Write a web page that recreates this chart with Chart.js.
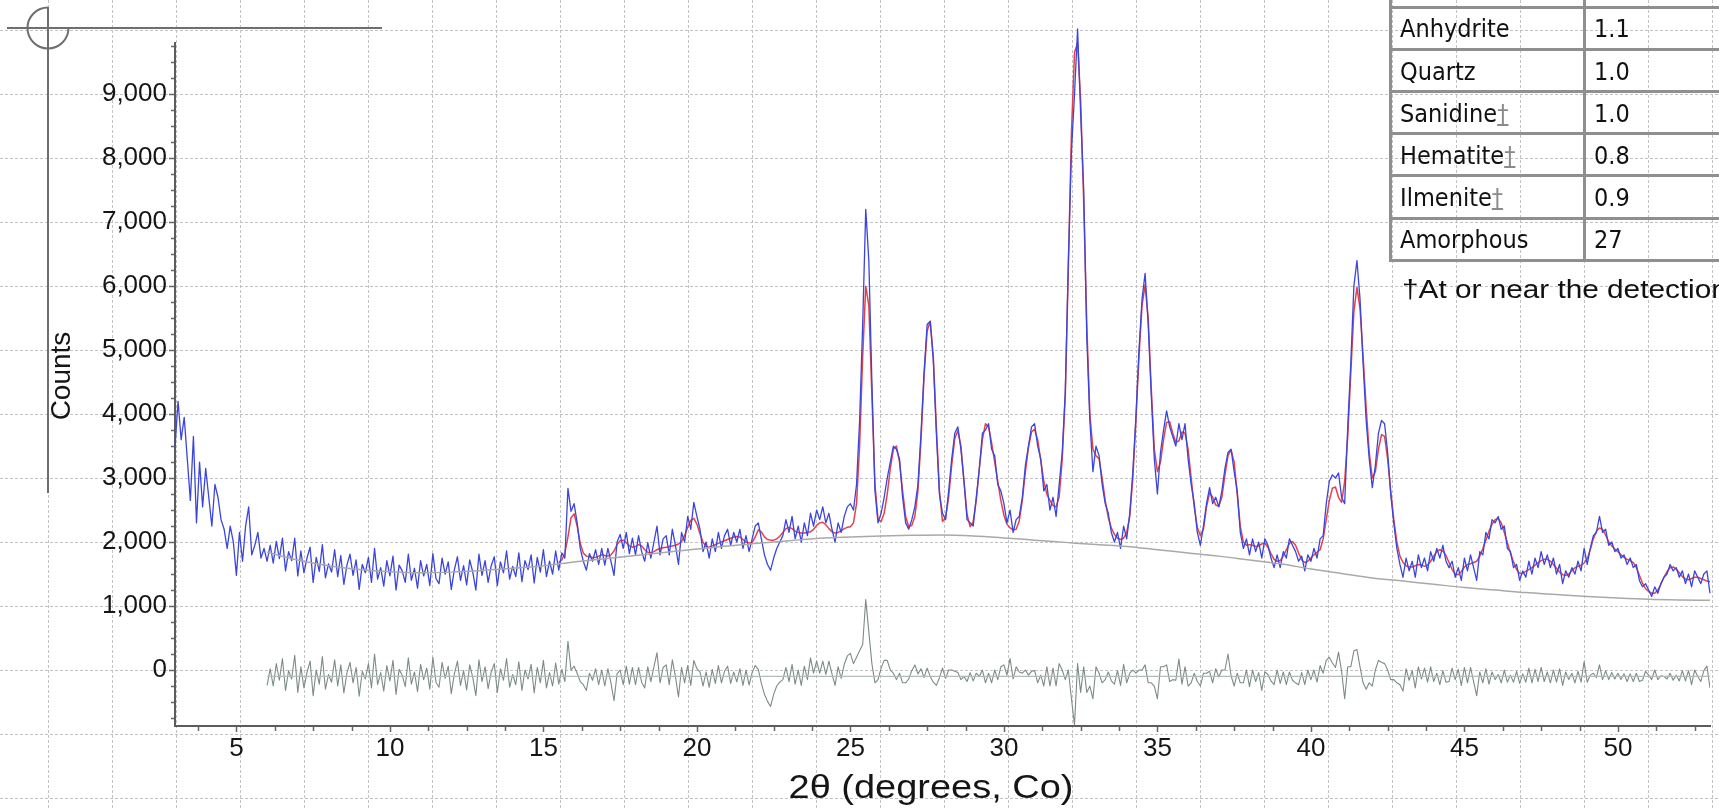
<!DOCTYPE html>
<html>
<head>
<meta charset="utf-8">
<script src="https://cdn.jsdelivr.net/npm/chart.js@4.4.1/dist/chart.umd.min.js"></script>
<style>
  html, body { margin: 0; padding: 0; background: #fff; overflow: hidden; }
  #wrap { position: relative; width: 1719px; height: 810px; overflow: hidden; }
  #c { position: absolute; left: 0; top: 0; }
  .tline { position: absolute; background: #8f8f8f; }
  .tcell { position: absolute; font-family: "DejaVu Sans Condensed", "DejaVu Sans", sans-serif; font-size: 25px; line-height: 42px; color: #111; white-space: nowrap; }
  .dag { color: #8a8a8a; text-decoration: underline; }
  #foot { position: absolute; left: 1402px; top: 274px; font-family: "Liberation Sans", Arial, sans-serif; font-size: 25px; line-height: 30px; color: #111; white-space: nowrap; transform: scaleX(1.19); transform-origin: 0 0; }
</style>
</head>
<body>
<div id="wrap">
  <canvas id="c" width="1719" height="810"></canvas>
  <div id="tbl"></div>
  <div id="foot"></div>
</div>
<script>
// ---------------- DATA ----------------
// 2θ scan grid (degrees, Co)
const scanStep = 0.1;
const obsStart = 3.0;     // observed pattern starts here
const calcStart = 15.5;   // calculated (fit) pattern starts here
const diffStart = 6.0;    // difference curve starts here
const bgStart = 6;        // background curve
const bgStep = 1;
const diffZeroLevel = -100; // baseline of the difference curve
const diffEnd = 53;

// Observed counts, 3.0 .. 53.0 (rows of 10 = one degree)
const observedCounts = [
  3500,4200,3600,3950,3300,2650,3650,2300,3250,2550,
  3150,2700,2250,2900,2700,2350,2200,1900,2250,2000,
  1480,2150,1700,2250,2550,1800,1950,2150,1750,1900,
  1700,1950,1670,2010,1740,2060,1550,1850,1710,2060,
  1470,1860,1520,1750,1920,1370,1760,1540,1960,1440,
  1660,1530,1880,1460,1790,1340,1640,1810,1480,1720,
  1260,1650,1520,1760,1370,1900,1420,1600,1310,1710,
  1470,1780,1250,1640,1550,1370,1810,1400,1590,1280,
  1710,1470,1650,1320,1820,1430,1350,1750,1500,1690,
  1260,1570,1770,1400,1630,1330,1720,1530,1250,1810,
  1480,1710,1370,1630,1770,1320,1690,1520,1860,1420,
  1620,1460,1830,1380,1710,1570,1800,1360,1760,1530,
  1880,1460,1700,1500,1860,1560,1830,1750,2840,2480,
  2600,2300,1900,1700,1560,1820,1700,1880,1650,1900,
  1640,1900,1700,1480,2000,2120,1900,2150,1820,2060,
  1800,2100,1850,1700,1990,1750,2000,2250,1800,2050,
  2100,1800,2200,1950,1650,2150,2000,2400,2200,2620,
  2400,2200,1850,2000,1750,2050,1850,2150,1900,2100,
  2200,1950,2150,2000,2200,1900,2100,1850,2050,2250,
  2300,2050,1800,1650,1560,1750,1900,2000,2100,2350,
  2150,2400,2050,2250,2000,2300,2100,2450,2250,2500,
  2350,2550,2300,2450,2200,2000,2300,2150,2400,2550,
  2600,2500,2900,3900,5400,7200,6400,4500,2800,2300,
  2450,2700,3000,3250,3500,3450,3300,2700,2300,2200,
  2350,2550,2900,3700,4650,5400,5450,4850,3700,2750,
  2450,2350,2800,3300,3700,3800,3450,2950,2350,2300,
  2250,2700,3150,3700,3750,3850,3450,3350,2900,2800,
  2600,2300,2500,2150,2350,2400,2700,3200,3500,3800,
  3850,3500,3300,2800,2900,2500,2700,2400,2900,3400,
  4350,6400,8100,9000,10020,8700,7500,5200,3900,3100,
  3500,3350,2900,2600,2450,2150,2000,2150,1900,2250,
  2050,2450,3100,3950,5000,5800,6200,5400,4300,3300,
  2750,3400,3750,4050,3800,3650,3500,3850,3600,3850,
  3300,2900,2600,2150,1950,2250,2600,2850,2600,2700,
  2550,2800,3150,3400,3450,3100,2800,2150,1900,2050,
  1800,2050,1850,2000,1750,2050,1950,1750,1600,1800,
  1600,1850,1750,2050,1950,1850,1700,1780,1550,1800,
  1700,1900,1750,2050,2100,2600,2950,3050,3000,3080,
  2700,2600,3800,4800,6000,6400,5800,4800,3900,3300,
  2850,3200,3700,3900,3850,3400,2750,2300,1900,1650,
  1450,1750,1550,1700,1450,1800,1600,1750,1550,1850,
  1700,1900,1750,1950,1700,1600,1700,1450,1600,1400,
  1750,1550,1800,1600,1400,1850,1800,2150,2050,2350,
  2300,2400,2200,2250,1900,1850,1600,1650,1400,1550,
  1450,1700,1500,1750,1600,1850,1650,1800,1600,1750,
  1500,1650,1350,1550,1450,1600,1500,1700,1550,1900,
  1650,1900,2100,2150,2400,2150,2200,1950,2000,1850,
  1900,1750,1800,1650,1750,1600,1650,1400,1300,1350,
  1250,1150,1300,1200,1350,1450,1500,1650,1550,1600,
  1450,1550,1350,1500,1300,1550,1450,1350,1500,1550,
  1200
];

// Calculated (fitted) counts, 15.5 .. 53.0
const calculatedCounts = [
  1680,1720,1830,2080,2380,
  2440,2250,1980,1830,1780,1770,1760,1760,1780,1800,
  1790,1780,1800,1860,1960,2020,2030,1990,1940,1920,
  1930,1960,1940,1880,1840,1830,1850,1880,1900,1910,
  1920,1930,1940,1950,1970,2010,2100,2230,2340,2370,
  2280,2130,2000,1930,1920,1940,1960,1980,2000,2020,
  2040,2060,2080,2085,2080,2040,2000,1985,1990,2080,
  2190,2160,2080,2040,2030,2030,2050,2090,2150,2210,
  2230,2210,2170,2150,2140,2140,2150,2160,2200,2260,
  2300,2310,2270,2210,2160,2140,2150,2180,2210,2230,
  2240,2300,2600,3500,4900,6000,5700,4300,2900,2350,
  2320,2450,2750,3150,3450,3500,3250,2800,2400,2240,
  2260,2400,2800,3600,4600,5300,5450,4900,3800,2800,
  2320,2380,2700,3200,3620,3740,3500,2950,2430,2240,
  2320,2650,3150,3600,3850,3800,3550,3250,2950,2650,
  2420,2280,2220,2190,2200,2330,2650,3100,3480,3720,
  3760,3600,3280,2950,2750,2650,2570,2550,2700,3300,
  4300,6300,8400,9650,9800,8900,7300,5400,4000,3450,
  3350,3300,3000,2650,2380,2220,2120,2060,2040,2060,
  2150,2400,3000,3900,4900,5700,6020,5500,4400,3450,
  3100,3250,3600,3870,3880,3700,3560,3580,3720,3700,
  3450,3000,2550,2230,2100,2200,2550,2770,2700,2580,
  2560,2700,3050,3350,3440,3250,2750,2250,2000,1950,
  1960,1950,1930,1940,1970,1980,1920,1820,1730,1700,
  1710,1780,1880,1980,2010,1950,1830,1720,1680,1700,
  1750,1800,1840,1880,2050,2350,2650,2840,2860,2700,
  2620,2950,3650,4650,5600,5980,5650,4900,4100,3400,
  3000,3100,3450,3680,3650,3300,2800,2350,2000,1780,
  1680,1630,1610,1610,1630,1650,1640,1620,1640,1700,
  1780,1850,1880,1860,1790,1680,1570,1500,1490,1540,
  1610,1650,1660,1680,1700,1780,1900,2030,2170,2280,
  2350,2370,2300,2150,1990,1830,1690,1570,1510,1510,
  1540,1570,1600,1640,1680,1710,1730,1730,1700,1650,
  1590,1530,1490,1480,1500,1550,1600,1620,1640,1670,
  1740,1880,2050,2170,2220,2200,2110,2000,1940,1890,
  1850,1800,1760,1730,1710,1680,1600,1480,1360,1270,
  1230,1200,1200,1250,1340,1450,1540,1600,1610,1580,
  1520,1460,1420,1410,1430,1450,1450,1430,1410,1390,
  1380
];

// Background counts, 6 .. 53 (1° steps)
const backgroundCounts = [
  1840,1720,1630,1570,1535,1520,1530,1555,1590,1630,
  1690,1740,1790,1840,1890,1940,1980,2020,2060,2080,
  2095,2105,2110,2095,2065,2030,1995,1960,1930,1880,
  1830,1780,1720,1660,1580,1510,1440,1390,1340,1290,
  1250,1210,1180,1150,1125,1105,1095,1090
];

// Difference curve (plotted values, offset baseline -100), 6.0 .. 53.0
const differenceCounts = [
  -240,20,-250,100,-160,180,-320,-10,-140,230,
  -350,50,-280,-40,140,-400,0,-220,210,-300,
  -70,-190,160,-250,80,-360,-50,120,-200,40,
  -410,-20,-140,100,-280,250,-230,-40,-330,70,
  -170,150,-380,10,-80,-260,190,-220,-30,-340,
  90,-150,30,-300,200,-190,-270,120,-130,60,
  -370,-60,140,-240,-10,-310,80,-120,-400,160,
  -180,50,-290,-30,100,-350,20,-160,180,-270,
  -70,-230,130,-320,0,-140,90,-360,40,-200,
  150,-280,-40,-250,110,-220,10,-180,450,0,
  60,-50,-180,-230,-320,-50,-160,20,-230,0,
  -250,20,-200,-480,-60,0,-230,60,-220,40,
  -230,40,-190,-280,50,-180,50,270,-200,40,
  80,-230,160,-100,-420,40,-200,70,-240,150,
  20,-30,-250,-30,-270,10,-210,70,-200,-20,
  60,-210,-30,-185,20,-240,0,-235,-40,70,
  10,-210,-380,-490,-570,-380,-250,-190,-150,40,
  -180,90,-220,0,-240,60,-150,190,-50,140,
  -50,140,-70,140,-60,-240,50,-130,90,220,
  260,100,200,300,400,1100,600,100,-200,-150,
  30,150,150,0,-50,-150,-50,-200,-200,-140,
  -10,80,-60,20,-120,30,-100,-190,-240,-120,
  30,-130,0,0,-20,-40,-150,-100,-180,-40,
  -170,-50,-100,0,-200,-50,-200,0,-150,50,
  80,-80,180,-140,50,-30,-50,0,-80,-20,
  -10,-200,-80,-250,50,-250,30,-250,100,0,
  -150,0,-450,-860,100,-350,50,-350,-250,-450,
  50,-50,-200,-150,-30,-170,-220,-10,-240,90,
  -200,-50,0,-50,0,0,80,-200,-200,-250,
  -450,50,50,80,-180,-150,-160,170,-220,50,
  -250,-200,-50,-180,-250,-50,-50,-20,-200,20,
  -110,0,0,250,-90,-250,-50,-200,-200,0,
  -260,0,-180,-40,-320,-30,-70,-170,-230,0,
  -210,-30,-230,-30,-160,-200,-230,-40,-230,0,
  -150,0,-190,70,-50,150,200,110,40,280,
  -20,-450,50,50,300,320,50,-200,-300,-200,
  -250,0,150,120,100,0,-150,-150,-200,-230,
  -330,20,-160,-10,-280,50,-140,30,-190,50,
  -180,-50,-230,-10,-190,-180,30,-150,10,-240,
  40,-200,40,-180,-400,-30,-200,20,-220,-30,
  -150,-70,-200,0,-190,-80,-190,-20,-210,-60,
  -190,30,-200,10,-180,40,-180,-30,-200,0,
  -190,20,-240,-30,-150,-50,-200,-20,-190,130,
  -190,-80,-50,-120,80,-150,-10,-150,-40,-140,
  -50,-150,-60,-180,-60,-180,-50,-180,-160,-20,
  -80,-150,0,-150,-90,-100,-140,-50,-160,-80,
  -170,-10,-170,-10,-230,0,-100,-180,-10,60,
  -280
];

// Axis ticks
const xTickValues = [5, 10, 15, 20, 25, 30, 35, 40, 45, 50];
const xTickLabels = ['5', '10', '15', '20', '25', '30', '35', '40', '45', '50'];
const yTickValues = [0, 1000, 2000, 3000, 4000, 5000, 6000, 7000, 8000, 9000];
const yTickLabels = ['0', '1,000', '2,000', '3,000', '4,000', '5,000', '6,000', '7,000', '8,000', '9,000'];
const xAxisTitle = '2θ (degrees, Co)';
const yAxisTitle = 'Counts';

// Table
const tableMinerals = ['Anhydrite', 'Quartz', 'Sanidine', 'Hematite', 'Ilmenite', 'Amorphous'];
const tableValues = ['1.1', '1.0', '1.0', '0.8', '0.9', '27'];
const tableDetectionFlag = [false, false, true, true, true, false];
const footnoteText = '†At or near the detection limit';

// ---------------- BUILD ----------------
function toPoints(start, step, arr) {
  return arr.map((v, i) => ({ x: Math.round((start + i * step) * 100) / 100, y: v }));
}

const pagePlugin = {
  id: 'page',
  beforeDraw(chart) {
    const ctx = chart.ctx;
    ctx.save();
    ctx.fillStyle = '#ffffff';
    ctx.fillRect(0, 0, chart.width, chart.height);
    ctx.strokeStyle = '#c2c2c2';
    ctx.lineWidth = 1;
    ctx.setLineDash([3, 2]);
    ctx.beginPath();
    for (let x = 48; x < chart.width; x += 64) { ctx.moveTo(x + 0.5, 0); ctx.lineTo(x + 0.5, chart.height); }
    for (let y = 30; y < chart.height; y += 64) { ctx.moveTo(0, y + 0.5); ctx.lineTo(chart.width, y + 0.5); }
    ctx.stroke();
    ctx.restore();
  },
  afterDraw(chart) {
    const ctx = chart.ctx;
    const xs = chart.scales.x, ys = chart.scales.y;
    const ca = chart.chartArea;
    ctx.save();
    // tick marks
    ctx.strokeStyle = '#666';
    ctx.lineWidth = 1.5;
    ctx.beginPath();
    for (let v = -750; v <= 9750; v += 250) {
      const py = Math.round(ys.getPixelForValue(v)) + 0.5;
      const L = (v % 1000 === 0) ? 5 : 3;
      ctx.moveTo(ca.left - 1 - L, py); ctx.lineTo(ca.left - 1, py);
    }
    for (let v = 3.75; v <= 52.6; v += 1.25) {
      const px = Math.round(xs.getPixelForValue(v)) + 0.5;
      const L = (Math.abs(v % 5) < 0.01) ? 5 : 4;
      ctx.moveTo(px, ca.bottom + 1); ctx.lineTo(px, ca.bottom + 1 + L);
    }
    ctx.stroke();

    // crosshair decoration
    ctx.strokeStyle = '#6e6e6e';
    ctx.lineWidth = 2;
    ctx.beginPath();
    ctx.moveTo(7, 28); ctx.lineTo(382, 28);
    ctx.moveTo(48, 7); ctx.lineTo(48, 493);
    ctx.stroke();
    ctx.beginPath();
    ctx.arc(48, 28, 20.5, -Math.PI / 2, 0, true);
    ctx.stroke();

    // axis titles
    ctx.fillStyle = '#151515';
    ctx.font = '33px "Liberation Sans", Arial, sans-serif';
    ctx.textAlign = 'center';
    ctx.textBaseline = 'alphabetic';
    ctx.save();
    ctx.translate(931, 798);
    ctx.scale(1.15, 1);
    ctx.fillText(xAxisTitle, 0, 0);
    ctx.restore();

    ctx.save();
    ctx.font = '28px "Liberation Sans", Arial, sans-serif';
    ctx.translate(70, 376);
    ctx.rotate(-Math.PI / 2);
    ctx.fillText(yAxisTitle, 0, 0);
    ctx.restore();
    ctx.restore();
  }
};

const tickFont = { family: '"Liberation Sans", Arial, sans-serif', size: 26 };

new Chart(document.getElementById('c'), {
  type: 'line',
  data: {
    datasets: [
      { label: 'Background', data: toPoints(bgStart, bgStep, backgroundCounts), borderColor: '#a9a9a9', borderWidth: 1.5, cubicInterpolationMode: 'monotone', pointRadius: 0 },
      { label: 'Zero', data: [{ x: diffStart, y: diffZeroLevel }, { x: diffEnd, y: diffZeroLevel }], borderColor: '#b3bcbb', borderWidth: 1.2, pointRadius: 0 },
      { label: 'Difference', data: toPoints(diffStart, scanStep, differenceCounts), borderColor: '#7d8b88', borderWidth: 1.1, borderJoinStyle: 'round', pointRadius: 0 },
      { label: 'Observed', data: toPoints(obsStart, scanStep, observedCounts), borderColor: '#3b45dc', borderWidth: 1.3, borderJoinStyle: 'round', pointRadius: 0, clip: false },
      { label: 'Calculated', data: toPoints(calcStart, scanStep, calculatedCounts), borderColor: '#e2424e', borderWidth: 1.5, borderJoinStyle: 'round', pointRadius: 0, clip: false }
    ]
  },
  options: {
    responsive: false,
    animation: false,
    devicePixelRatio: 1,
    events: [],
    layout: { padding: { top: 43, right: 9, left: 0, bottom: 0 } },
    plugins: { legend: { display: false }, tooltip: { enabled: false } },
    elements: { point: { radius: 0 }, line: { tension: 0 } },
    scales: {
      x: {
        type: 'linear', min: 3, max: 53,
        grid: { display: false, drawTicks: false },
        border: { display: true, color: '#5c5c5c', width: 2 },
        ticks: {
          font: tickFont, color: '#151515', padding: 7, autoSkip: false, maxRotation: 0,
          callback: (v, i) => xTickLabels[i]
        },
        afterBuildTicks: (s) => { s.ticks = xTickValues.map(v => ({ value: v })); },
        afterFit: (s) => { s.height = 84; }
      },
      y: {
        type: 'linear', min: -875, max: 9800,
        grid: { display: false, drawTicks: false },
        border: { display: true, color: '#5c5c5c', width: 2 },
        ticks: {
          font: tickFont, color: '#151515', padding: 8,
          callback: (v, i) => yTickLabels[i]
        },
        afterBuildTicks: (s) => { s.ticks = yTickValues.map(v => ({ value: v })); },
        afterFit: (s) => { s.width = 175; }
      }
    }
  },
  plugins: [pagePlugin]
});

// ---------------- TABLE (HTML overlay) ----------------
(function buildTable() {
  const tbl = document.getElementById('tbl');
  const pitch = 42.2, firstLine = 7;
  const add = (cls, style, html) => {
    const d = document.createElement('div');
    d.className = cls; d.setAttribute('style', style);
    if (html !== undefined) d.innerHTML = html;
    tbl.appendChild(d);
  };
  const nRows = tableMinerals.length;
  const bottom = firstLine + pitch * nRows;
  add('tline', `left:1389px;top:0;width:3px;height:${Math.round(bottom + 1.5)}px`);
  add('tline', `left:1583px;top:0;width:3px;height:${Math.round(bottom + 1.5)}px`);
  for (let k = 0; k <= nRows; k++) {
    const c = firstLine + pitch * k;
    add('tline', `left:1389px;top:${Math.round(c - 1.5)}px;width:340px;height:3px`);
  }
  for (let k = 0; k < nRows; k++) {
    const top = firstLine + pitch * k + 1.35;
    const name = tableMinerals[k] + (tableDetectionFlag[k] ? '<span class="dag">†</span>' : '');
    add('tcell', `left:1400px;top:${top}px`, name);
    add('tcell', `left:1594px;top:${top}px`, tableValues[k]);
  }
  document.getElementById('foot').textContent = footnoteText;
})();
</script>
</body>
</html>
